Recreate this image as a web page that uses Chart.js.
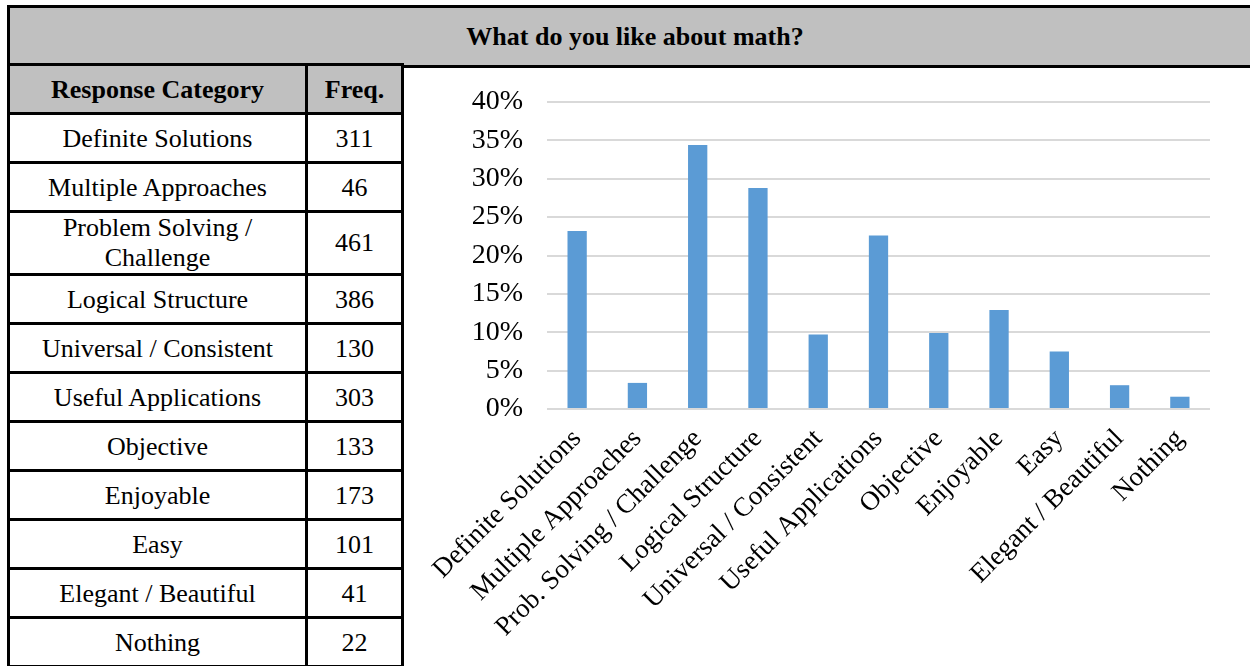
<!DOCTYPE html>
<html lang="en">
<head>
  <meta charset="UTF-8" />
  <title>What do you like about math?</title>
  <script src="https://cdn.jsdelivr.net/npm/chart.js"></script>
  <style>
    body { margin: 0; background: #fff; font-family: "Liberation Serif", "Times New Roman", serif; }
    .page { position: relative; width: 1250px; height: 666px; overflow: hidden; }
    .title {
      position: absolute; left: 7px; top: 5px; width: 1250px; height: 57px;
      background: #c0c0c0; border: 3px solid #000; border-right: none;
      font-weight: bold; font-size: 26px; text-align: center; line-height: 57px;
      padding-right: 10px; box-sizing: content-box;
    }
    table {
      position: absolute; left: 7px; top: 63px; border-collapse: collapse;
      font-size: 26px;
    }
    td, th { border: 3px solid #000; text-align: center; padding: 0 6px; line-height: 31px; }
    th { background: #c0c0c0; height: 46px; }
    td { height: 46px; }
    td.cat { width: 283px; }
    td.num, th.num { width: 81px; }
    tr.tall td { height: 60px; line-height: 30px; }
    #wrap { position: absolute; left: 405px; top: 66px; width: 845px; height: 600px; }
  </style>
</head>
<body>
<div class="page">
  <div class="title">What do you like about math?</div>
  <table id="tbl">
    <tr><th style="width:283px">Response Category</th><th class="num">Freq.</th></tr>
  </table>
  <div id="wrap"><canvas id="chart"></canvas></div>
</div>

<script>
  const tableLabels = ["Definite Solutions", "Multiple Approaches", "Problem Solving /<br>Challenge",
    "Logical Structure", "Universal / Consistent", "Useful Applications", "Objective",
    "Enjoyable", "Easy", "Elegant / Beautiful", "Nothing"];
  const freq = [311, 46, 461, 386, 130, 303, 133, 173, 101, 41, 22];
  const chartLabels = ["Definite Solutions", "Multiple Approaches", "Prob. Solving / Challenge",
    "Logical Structure", "Universal / Consistent", "Useful Applications", "Objective",
    "Enjoyable", "Easy", "Elegant / Beautiful", "Nothing"];
  const percent = [23.2, 3.4, 34.4, 28.8, 9.7, 22.6, 9.9, 12.9, 7.5, 3.1, 1.6];

  const tbl = document.getElementById("tbl");
  tableLabels.forEach((lab, i) => {
    const tr = document.createElement("tr");
    if (lab.includes("<br>")) tr.className = "tall";
    tr.innerHTML = `<td class="cat">${lab}</td><td class="num">${freq[i]}</td>`;
    tbl.appendChild(tr);
  });

  const serif = "'Liberation Serif', 'Times New Roman', serif";

  new Chart(document.getElementById("chart"), {
    type: "bar",
    data: {
      labels: chartLabels,
      datasets: [{
        data: percent,
        backgroundColor: "#5b9bd5",
        barPercentage: 0.32,
        categoryPercentage: 1
      }]
    },
    options: {
      responsive: true,
      maintainAspectRatio: false,
      animation: false,
      layout: { padding: { top: 36, right: 40, left: 0, bottom: 0 } },
      plugins: { legend: { display: false }, tooltip: { enabled: false } },
      scales: {
        x: {
          grid: { display: false },
          border: { display: false },
          ticks: { color: "#000", font: { family: serif, size: 27 }, autoSkip: false,
                   minRotation: 45, maxRotation: 45, padding: 6 },
          afterFit: s => { s.height = 257; }
        },
        y: {
          min: 0, max: 40,
          grid: { color: "#d9d9d9", lineWidth: 2, drawTicks: false },
          border: { display: false },
          ticks: { stepSize: 5, color: "#000", font: { family: serif, size: 28, lineHeight: 1 },
                   padding: 24, callback: v => v + "%" },
          afterFit: s => { s.width = 142; s.paddingTop = 0; s.paddingBottom = 0; }
        }
      }
    }
  });
</script>
</body>
</html>
